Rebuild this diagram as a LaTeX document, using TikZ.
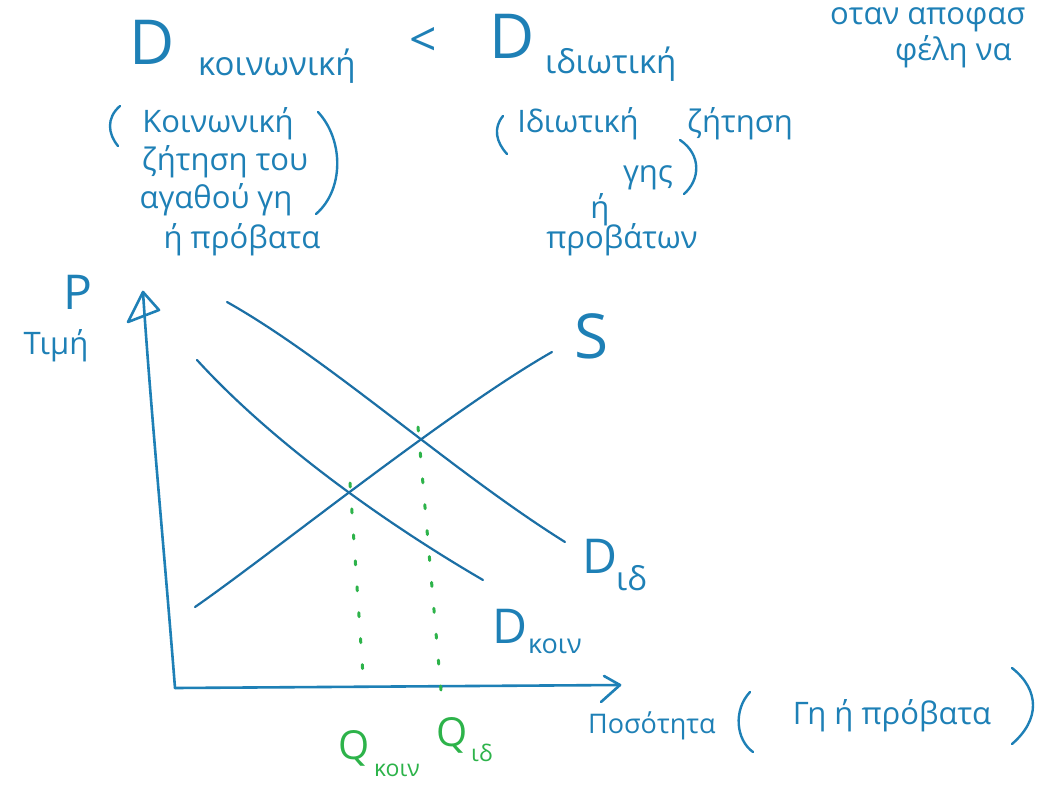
\documentclass[tikz,border=0pt]{standalone}
\usepackage{fontspec}
\setmainfont{Open Sans}
\definecolor{ink}{HTML}{1E80B6}
\definecolor{inkd}{HTML}{1B6FA5}
\definecolor{grn}{HTML}{2DB34A}
\tikzset{
  curve/.style={draw=inkd, line width=2.2pt, line cap=round},
  axisline/.style={draw=ink, line width=2.6pt, line cap=round, line join=round},
  guide/.style={draw=grn, line width=3pt, dash pattern=on 4pt off 22pt, line cap=round},
  txt/.style={text=ink, inner sep=0pt, font=\fontsize{31}{33}\selectfont},
  small/.style={text=ink, inner sep=0pt, font=\fontsize{27}{29}\selectfont},
  sub/.style={text=ink, inner sep=0pt, font=\fontsize{33}{35}\selectfont},
  big/.style={text=ink, inner sep=0pt, font=\fontsize{62}{64}\selectfont},
  mid/.style={text=ink, inner sep=0pt, font=\fontsize{48}{50}\selectfont},
  gtxt/.style={text=grn, inner sep=0pt, font=\fontsize{40}{42}\selectfont},
  gsub/.style={text=grn, inner sep=0pt, font=\fontsize{23}{25}\selectfont},
  paren/.style={draw=ink, line width=2.4pt, line cap=round},
}
\begin{document}
\begin{tikzpicture}[x=1pt,y=-1pt]
\useasboundingbox[fill=white] (0,0) rectangle (1037,787);

% ---------- top headings ----------
\node[big] (Dk) at (152,42) {D};
\node[sub, anchor=west] (Dksub) at (198,66) {κοινωνική};
\node[mid] (lt) at (423,42) {<};
\node[big] (Di) at (512,36) {D};
\node[sub, anchor=west] (Disub) at (545,64) {ιδιωτική};

% top-right note (runs off the board)
\node[txt, anchor=west] (note1) at (830,20) {οταν αποφασ};
\node[txt, anchor=west] (note2) at (895,52) {φέλη να};

% ---------- left explanatory block ----------
\node[txt] (k1) at (218,124) {Κοινωνική};
\node[txt] (k2) at (225,162) {ζήτηση του};
\node[txt] (k3) at (216,200) {αγαθού γη};
\node[txt] (k4) at (242,240) {ή πρόβατα};
\draw[paren] (120,106) .. controls (106,118) and (108,134) .. (118,146);
\draw[paren] (318,112) .. controls (344,140) and (344,190) .. (316,214);

% ---------- right explanatory block ----------
\node[txt] (i1) at (578,124) {Ιδιωτική};
\node[txt] (i2) at (740,124) {ζήτηση};
\node[txt] (i3) at (648,178) {γης};
\draw[paren] (503,116) .. controls (493,128) and (496,142) .. (507,154);
\draw[paren] (680,140) .. controls (702,155) and (700,180) .. (684,194);
\node[txt] (i4) at (600,210) {ή};
\node[txt] (i5) at (622,240) {προβάτων};

% ---------- axes ----------
\coordinate (O) at (175,688);
\coordinate (Ytop) at (143,292);
\coordinate (Xend) at (620,685);
\draw[axisline] (O) .. controls (165,560) and (150,400) .. (Ytop);
\draw[axisline] (128,322) -- (Ytop) -- (159,310) -- cycle;
\draw[axisline] (O) -- (Xend);
\draw[axisline] (604,676) -- (Xend) -- (601,702);

\node[mid] (P) at (78,292) {P};
\node[txt] (tim) at (56,346) {Τιμή};
\node[small, anchor=west] (pos) at (588,726) {Ποσότητα};
\draw[paren] (750,692) .. controls (733,710) and (736,740) .. (753,752);
\node[txt] (gp) at (892,716) {Γη ή πρόβατα};
\draw[paren] (1012,668) .. controls (1040,690) and (1040,720) .. (1012,744);

% ---------- curves ----------
\coordinate (S0) at (195,607);
\coordinate (S1) at (552,352);
\coordinate (Di0) at (227,302);
\coordinate (Di1) at (565,542);
\coordinate (Dk0) at (197,360);
\coordinate (Dk1) at (483,580);
\coordinate (Ek) at (350,497);
\coordinate (Ei) at (418,445);

\draw[curve] (S0) .. controls (270,555) and (450,410) .. (S1);
\draw[curve] (Di0) .. controls (330,360) and (450,470) .. (Di1);
\draw[curve] (Dk0) .. controls (270,440) and (380,520) .. (Dk1);

\node[big] (Slab) at (592,336) {S};
\node[mid] (Dilab) at (600,556) {D};
\node[sub, anchor=west] (Dilabsub) at (616,578) {ιδ};
\node[mid] (Dklab) at (510,626) {D};
\node[small, anchor=west] (Dklabsub) at (528,646) {κοιν};

% ---------- green guides ----------
\coordinate (Qk) at (364,690);
\coordinate (Qi) at (441,690);
\draw[guide] ([yshift=14pt]Ek) -- (Qk);
\draw[guide] ([yshift=18pt]Ei) -- (Qi);

\node[gtxt] (Qkl) at (354,748) {Q};
\node[gsub, anchor=west] (Qksub) at (374,770) {κοιν};
\node[gtxt] (Qil) at (452,735) {Q};
\node[gsub, anchor=west] (Qisub) at (471,753) {ιδ};
\end{tikzpicture}
\end{document}
